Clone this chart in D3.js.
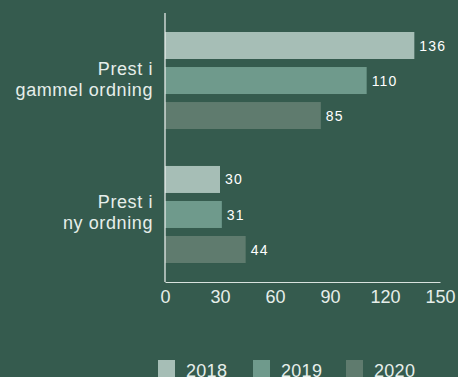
<!DOCTYPE html>
<html>
<head>
<meta charset="utf-8">
<script src="https://cdn.jsdelivr.net/npm/d3@7"></script>
<style>
  html, body { margin: 0; padding: 0; background: #355b4e; }
  svg { display: block; }
</style>
</head>
<body>
<svg id="chart"></svg>
<script>
const categories = [["Prest i", "gammel ordning"], ["Prest i", "ny ordning"]];
const groupKeys = ["gammel", "ny"];
const years = ["2018", "2019", "2020"];
const values2018 = [136, 30];
const values2019 = [110, 31];
const values2020 = [85, 44];
const xTicks = [0, 30, 60, 90, 120, 150];
const colors = ["#a6beb6", "#6f9a8c", "#5f7b6e"];

const series = [values2018, values2019, values2020];

const width = 458, height = 377;
const svg = d3.select("#chart").attr("width", width).attr("height", height);

const x = d3.scaleLinear().domain([0, 150]).range([165, 440]);
const y0 = d3.scaleBand().domain(groupKeys).range([13, 282])
  .paddingInner(0.216).paddingOuter(0.112);
const y1 = d3.scaleBand().domain(years).range([0, y0.bandwidth()])
  .paddingInner(0.2286).paddingOuter(0.114);

const textColor = "#e6eeea";
const labelFont = "'Liberation Sans', Arial, sans-serif";

// bars
groupKeys.forEach((gk, gi) => {
  const g = svg.append("g").attr("transform", `translate(0,${y0(gk)})`);
  years.forEach((yr, si) => {
    const v = series[si][gi];
    g.append("rect")
      .attr("x", x(0))
      .attr("y", y1(yr))
      .attr("width", x(v) - x(0))
      .attr("height", y1.bandwidth())
      .attr("fill", colors[si]);
    g.append("text")
      .attr("x", x(v) + 5)
      .attr("y", y1(yr) + y1.bandwidth() / 2)
      .attr("dy", "0.36em")
      .style("font-family", labelFont)
      .style("font-size", "14px")
      .style("letter-spacing", "1.2px")
      .style("fill", "#ffffff")
      .text(v);
  });
  // category label
  const lbl = svg.append("text")
    .attr("text-anchor", "end")
    .style("font-family", labelFont)
    .style("font-size", "18px")
    .style("letter-spacing", "0.6px")
    .style("fill", textColor);
  const cy = y0(gk) + y0.bandwidth() / 2;
  categories[gi].forEach((line, li) => {
    lbl.append("tspan")
      .attr("x", 153)
      .attr("y", cy - 6 + li * 21)
      .text(line);
  });
});

// axes
svg.append("line")
  .attr("x1", x(0)).attr("x2", x(0))
  .attr("y1", 13).attr("y2", 282)
  .attr("stroke", "#f2f5f3").attr("stroke-width", 1.2);

const xAxis = svg.append("g")
  .attr("transform", "translate(0,282)")
  .call(d3.axisBottom(x).tickValues(xTicks).tickSize(0).tickPadding(8));
xAxis.select(".domain").attr("stroke", "#d9e3de").attr("stroke-width", 1.2);
xAxis.selectAll("text")
  .style("font-family", labelFont)
  .style("font-size", "18px")
  .style("fill", textColor);

// legend
const legendX = [158, 253, 346];
years.forEach((yr, i) => {
  svg.append("rect")
    .attr("x", legendX[i]).attr("y", 360)
    .attr("width", 17).attr("height", 17)
    .attr("fill", colors[i]);
  svg.append("text")
    .attr("x", legendX[i] + 28).attr("y", 377)
    .style("font-family", labelFont)
    .style("font-size", "18px")
    .style("letter-spacing", "0.3px")
    .style("fill", textColor)
    .text(yr);
});
</script>
</body>
</html>
